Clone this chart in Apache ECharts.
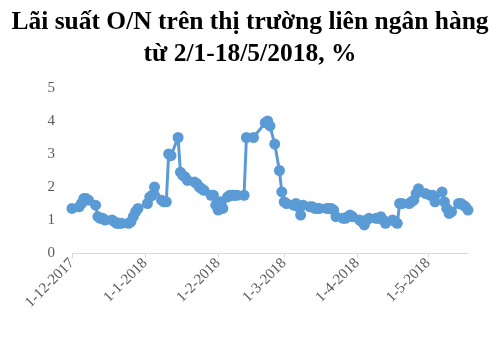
<!DOCTYPE html>
<html>
<head>
<meta charset="utf-8">
<script src="https://cdn.jsdelivr.net/npm/echarts@6/dist/echarts.min.js"></script>
<style>
  html, body { margin: 0; padding: 0; background: #fff; }
  #chart { width: 500px; height: 346px; }
</style>
</head>
<body>
<div id="chart"></div>
<script>
// Overnight interbank rate, %
const titleLines = ['Lãi suất O/N trên thị trường liên ngân hàng', 'từ 2/1-18/5/2018, %'];
const axisStart = '2017-12-01';
const axisEnd = '2018-05-18';
const yTicks = [0, 1, 2, 3, 4, 5];

const dates = [
  '2017-12-01','2017-12-04','2017-12-05','2017-12-06','2017-12-07','2017-12-08','2017-12-11','2017-12-12',
  '2017-12-13','2017-12-14','2017-12-15','2017-12-18','2017-12-19','2017-12-20','2017-12-21','2017-12-22',
  '2017-12-25','2017-12-26','2017-12-27','2017-12-28','2017-12-29',
  '2018-01-02','2018-01-03','2018-01-04','2018-01-05','2018-01-08','2018-01-09','2018-01-10','2018-01-11',
  '2018-01-12','2018-01-15','2018-01-16','2018-01-17','2018-01-18','2018-01-19','2018-01-22','2018-01-23',
  '2018-01-24','2018-01-25','2018-01-26','2018-01-29','2018-01-30','2018-01-31',
  '2018-02-01','2018-02-02','2018-02-03','2018-02-05','2018-02-06','2018-02-07','2018-02-08','2018-02-09',
  '2018-02-12','2018-02-13','2018-02-16','2018-02-21','2018-02-22','2018-02-23','2018-02-25','2018-02-27',
  '2018-02-28',
  '2018-03-01','2018-03-02','2018-03-05','2018-03-06','2018-03-07','2018-03-08','2018-03-09','2018-03-12',
  '2018-03-13','2018-03-14','2018-03-15','2018-03-16','2018-03-19','2018-03-20','2018-03-21','2018-03-22',
  '2018-03-23','2018-03-26','2018-03-27','2018-03-28','2018-03-29','2018-03-30',
  '2018-04-02','2018-04-03','2018-04-04','2018-04-05','2018-04-06','2018-04-09','2018-04-10','2018-04-11',
  '2018-04-12','2018-04-13','2018-04-16','2018-04-17','2018-04-18','2018-04-19','2018-04-20','2018-04-23',
  '2018-04-24','2018-04-25','2018-04-26','2018-04-27','2018-04-30',
  '2018-05-02','2018-05-03','2018-05-04','2018-05-07','2018-05-08','2018-05-09','2018-05-10','2018-05-11',
  '2018-05-14','2018-05-15','2018-05-16','2018-05-17','2018-05-18'
];
const rates = [
  1.35, 1.4, 1.5, 1.65, 1.65, 1.6, 1.45, 1.1,
  1.05, 1.05, 1.0, 1.0, 0.95, 0.9, 0.9, 0.9,
  0.9, 0.95, 1.1, 1.25, 1.35,
  1.5, 1.7, 1.75, 2.0, 1.6, 1.55, 1.55, 3.0,
  2.95, 3.5, 2.45, 2.35, 2.3, 2.2, 2.15, 2.1,
  2.0, 1.95, 1.9, 1.75, 1.75, 1.45,
  1.3, 1.55, 1.35, 1.7, 1.75, 1.75, 1.75, 1.75,
  1.75, 3.5, 3.5, 3.95, 4.0, 3.85, 3.3, 2.5,
  1.85,
  1.55, 1.5, 1.45, 1.5, 1.4, 1.15, 1.45, 1.4,
  1.4, 1.35, 1.35, 1.35, 1.35, 1.35, 1.35, 1.3,
  1.1, 1.05, 1.05, 1.1, 1.15, 1.1,
  1.0, 0.95, 0.85, 1.0, 1.05, 1.05, 1.05, 1.1,
  1.0, 0.9, 1.0, 0.95, 0.9, 1.5, 1.5, 1.5,
  1.55, 1.6, 1.8, 1.95, 1.8,
  1.75, 1.75, 1.55, 1.85, 1.55, 1.35, 1.2, 1.25,
  1.5, 1.5, 1.45, 1.4, 1.3
];

// daily categories spanning the axis
function isoDay(d) {
  const m = String(d.getUTCMonth() + 1).padStart(2, '0');
  const dd = String(d.getUTCDate()).padStart(2, '0');
  return d.getUTCFullYear() + '-' + m + '-' + dd;
}
const categories = [];
for (let d = new Date(axisStart + 'T00:00:00Z'); isoDay(d) <= axisEnd; d.setUTCDate(d.getUTCDate() + 1)) {
  categories.push(isoDay(d));
}
const isMonthStart = (idx, value) => value.slice(8) === '01';
const fmtLabel = v => {
  const [y, m, d] = v.split('-');
  return Number(d) + '-' + Number(m) + '-' + y;
};

const chart = echarts.init(document.getElementById('chart'), null, { renderer: 'canvas' });
chart.setOption({
  animation: false,
  backgroundColor: '#ffffff',
  title: {
    text: titleLines.join('\n'),
    left: 'center',
    top: 1,
    textStyle: {
      fontFamily: 'Liberation Serif',
      fontWeight: 'bold',
      fontSize: 25.5,
      lineHeight: 32,
      color: '#000000'
    }
  },
  grid: { left: 72, right: 32, top: 88, bottom: 93, containLabel: false },
  xAxis: {
    type: 'category',
    data: categories,
    boundaryGap: false,
    axisLine: { show: true, lineStyle: { color: '#d9d9d9', width: 1 } },
    axisTick: { show: true, interval: isMonthStart, length: 5, lineStyle: { color: '#d9d9d9' } },
    axisLabel: {
      interval: isMonthStart,
      rotate: 45,
      margin: 8,
      formatter: fmtLabel,
      fontFamily: 'Liberation Serif',
      fontSize: 15,
      color: '#595959'
    },
    splitLine: { show: false }
  },
  yAxis: {
    type: 'value',
    min: yTicks[0],
    max: yTicks[yTicks.length - 1],
    interval: 1,
    axisLine: { show: false },
    axisTick: { show: false },
    splitLine: { show: false },
    axisLabel: {
      margin: 17,
      fontFamily: 'Liberation Serif',
      fontSize: 15,
      color: '#595959'
    }
  },
  series: [{
    type: 'line',
    data: dates.map((d, i) => [d, rates[i]]),
    symbol: 'circle',
    symbolSize: 11,
    showSymbol: true,
    showAllSymbol: true,
    lineStyle: { color: '#5b9bd5', width: 3 },
    itemStyle: { color: '#5b9bd5' }
  }]
});
</script>
</body>
</html>
